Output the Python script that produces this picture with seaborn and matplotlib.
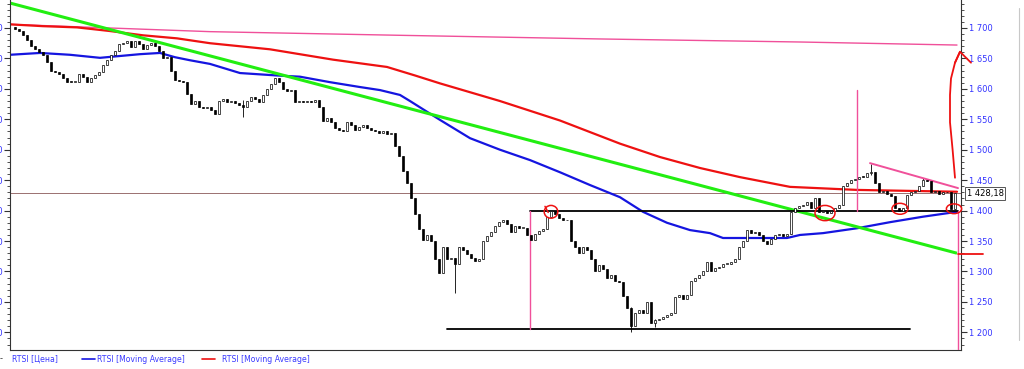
import numpy as np
import pandas as pd
import matplotlib
matplotlib.use("Agg")
import matplotlib.pyplot as plt
from matplotlib.patches import Ellipse, Rectangle
from matplotlib.ticker import MultipleLocator, FuncFormatter
import seaborn as sns

# ---------------- data ----------------
closes = [
    1698, 1695, 1688, 1680, 1670, 1665, 1660, 1655, 1644, 1630,
    1627, 1625, 1618, 1612, 1611, 1612, 1625, 1620, 1612, 1618,
    1622, 1628, 1640, 1648, 1655, 1662, 1674, 1676, 1678, 1668,
    1678, 1674, 1666, 1672, 1675, 1670, 1662, 1650, 1652, 1630,
    1614, 1613, 1612, 1592, 1575, 1580, 1570, 1568, 1570, 1566,
    1558, 1580, 1584, 1578, 1580, 1576, 1574, 1570, 1580, 1586,
    1584, 1578, 1590, 1600, 1608, 1618, 1612, 1600, 1596, 1598,
    1578, 1580, 1578, 1580, 1578, 1582, 1570, 1548, 1552, 1545,
    1535, 1532, 1531, 1545, 1540, 1532, 1538, 1540, 1536, 1532,
    1530, 1528, 1530, 1526, 1528, 1506, 1490, 1465, 1445, 1420,
    1395, 1370, 1352, 1360, 1350, 1320, 1298, 1340, 1320, 1322,
    1312, 1340, 1336, 1328, 1322, 1318, 1320, 1350, 1358, 1365,
    1375, 1382, 1384, 1378, 1365, 1375, 1372, 1372, 1360, 1352,
    1362, 1366, 1370, 1390, 1400, 1395, 1388, 1384, 1385, 1350,
    1340, 1330, 1340, 1335, 1320, 1300, 1310, 1304, 1290, 1294,
    1285, 1282, 1260, 1240, 1210, 1232, 1236, 1232, 1250, 1215,
    1220, 1222, 1225, 1228, 1232, 1258, 1262, 1255, 1262, 1285,
    1290, 1295, 1300, 1315, 1300, 1305, 1308, 1312, 1312, 1315,
    1320, 1340, 1350, 1368, 1364, 1365, 1360, 1350, 1345, 1354,
    1360, 1362, 1358, 1362, 1398, 1405, 1408, 1410, 1414, 1404,
    1420, 1398, 1400, 1396, 1400, 1404, 1410, 1440, 1445, 1450,
    1452, 1456, 1455, 1462, 1464, 1445, 1430, 1432, 1428, 1424,
    1405, 1400, 1404, 1425, 1430, 1432, 1440, 1450, 1448, 1430,
    1432, 1428, 1430, 1430, 1402, 1428.18,
]
first_open = 1702
# notable wicks: index -> (high, low)
wicks = {57: (1582, 1554), 110: (1322, 1265), 154: (1242, 1200),
         160: (1222, 1208), 214: (1476, 1458), 227: (1454, 1440)}

blue_ma_x = [-1.25, 6.25, 13.75, 21.25, 31.25, 36.25, 40, 43.75, 48.75, 56.25,
             65.5, 71.25, 78.75, 86.25, 91.25, 96.25, 98.75, 106.25, 113.75,
             121.25, 128.75, 136.25, 143.75, 151.25, 157, 163, 168.75, 173.75,
             177, 182, 193, 196.25, 202, 210.5, 218.75, 227, 235.5]
blue_ma_y = [1656, 1659, 1656, 1651, 1657, 1659, 1652, 1647, 1641, 1626,
             1622, 1620, 1611, 1603, 1598, 1590, 1580, 1549, 1519,
             1500, 1483, 1463, 1442, 1422, 1398, 1380, 1368, 1363,
             1355, 1355, 1355, 1360, 1363, 1371, 1381, 1390, 1398]

red_ma_x = [-1.25, 7, 15.5, 23.75, 32, 40.5, 48.75, 63.75, 79.5, 93, 100,
            106.25, 121.25, 136.25, 151.25, 161.25, 171.25, 181.25, 193.75,
            210.5, 227, 235.5]
red_ma_y = [1706, 1703, 1701, 1695, 1688, 1683, 1675, 1665, 1648, 1636, 1622,
            1609, 1580, 1548, 1510, 1488, 1470, 1455, 1439,
            1434, 1432, 1431]

pink_ma_x = [-1.25, 23.75, 48.75, 96.25, 146.25, 196.25, 235.5]
pink_ma_y = [1706, 1700, 1694, 1688, 1682, 1677, 1672]

last_price = 1428.18
legend_labels = ["RTSI [Цена]", "RTSI [Moving Average]", "RTSI [Moving Average]"]

# ---------------- figure ----------------
sns.set_theme(style="white")
plt.rcParams['font.family'] = ['DejaVu Sans']

W, H = 1024, 369
fig = plt.figure(figsize=(W / 100, H / 100), dpi=100)
ax = fig.add_axes([10 / W, 19 / H, 951 / W, 350 / H])
ax.set_facecolor("white")

n = len(closes)
opens = [first_open] + closes[:-1]
XMIN, XMAX = -1.25, 236.5
YMIN, YMAX = 1171, 1746

# moving averages through seaborn
ma_df = pd.concat([
    pd.DataFrame({"x": pink_ma_x, "v": pink_ma_y, "s": "pink"}),
    pd.DataFrame({"x": red_ma_x, "v": red_ma_y, "s": "red"}),
    pd.DataFrame({"x": blue_ma_x, "v": blue_ma_y, "s": "blue"}),
])
sns.lineplot(data=ma_df[ma_df.s == "pink"], x="x", y="v", color="#f0509a",
             lw=1.0, ax=ax, sort=False, zorder=2)
sns.lineplot(data=ma_df[ma_df.s == "red"], x="x", y="v", color="#ee1111",
             lw=1.6, ax=ax, sort=False, zorder=2)
sns.lineplot(data=ma_df[ma_df.s == "blue"], x="x", y="v", color="#1515e0",
             lw=1.6, ax=ax, sort=False, zorder=2)

# green trend line
ax.plot([-1.25, 235.5], [1741, 1330], color="#22ee11", lw=2.2, zorder=2,
        solid_capstyle="butt")

# last price line
ax.axhline(last_price, color="#8a5a5a", lw=0.6, zorder=1)

# candles
for i in range(n):
    o, c = opens[i], closes[i]
    hi, lo = max(o, c), min(o, c)
    if i in wicks:
        hi = max(hi, wicks[i][0]); lo = min(lo, wicks[i][1])
    ax.vlines(i, lo, hi, color="black", lw=0.6, zorder=3)
    bottom = min(o, c)
    h = max(abs(c - o), 1.2)
    face = "white" if c >= o else "black"
    ax.add_patch(Rectangle((i - 0.3, bottom), 0.6, h, facecolor=face,
                           edgecolor="black", lw=0.5, zorder=4))

# black horizontal levels
ax.plot([128.75, 235.75], [1399, 1399], color="black", lw=1.3, zorder=3)
ax.plot([108, 223.75], [1205, 1205], color="black", lw=1.3, zorder=3)

# pink verticals and triangle side
pk = "#f0509a"
ax.plot([128.75, 128.75], [1399, 1205], color=pk, lw=1.0, zorder=3)
ax.plot([210.5, 210.5], [1598, 1399], color=pk, lw=1.0, zorder=3)
ax.plot([235.75, 235.75], [1400, YMIN], color=pk, lw=1.0, zorder=3)
ax.plot([213.75, 235.75], [1478, 1437], color=pk, lw=1.4, zorder=3)

# red hand-drawn marks
rd = "#ee1111"
for cx, cy, w, h in [(134, 1398, 3.4, 21), (202.5, 1396, 5.0, 25),
                     (221.25, 1403, 4.0, 18), (234.75, 1403, 3.8, 16)]:
    ax.add_patch(Ellipse((cx, cy), w, h, fill=False, edgecolor=rd, lw=1.1,
                         zorder=5, clip_on=False))
ax.plot([132.5, 133.3], [1407, 1397], color=rd, lw=1.1, zorder=5)
arrow_x = [235, 234.4, 233.75, 233.75, 234.0, 235.0, 236.25]
arrow_y = [1454, 1500, 1545, 1590, 1617, 1643, 1661]
ax.plot(arrow_x, arrow_y, color=rd, lw=1.3, zorder=5, clip_on=False)
ax.plot([235.0, 236.25, 239.0], [1643, 1661, 1643], color=rd, lw=1.3,
        zorder=5, clip_on=False)
ax.plot([235.75, 242], [1329, 1329], color=rd, lw=1.3, zorder=5, clip_on=False)

# axes styling
ax.set_xlim(XMIN, XMAX)
ax.set_ylim(YMIN, YMAX)
ax.set_xlabel(""); ax.set_ylabel("")
ax.set_xticks([])
fmt = FuncFormatter(lambda v, p: f"{int(round(v)):,}".replace(",", " "))
ax.yaxis.set_major_locator(MultipleLocator(50))
ax.yaxis.set_minor_locator(MultipleLocator(10))
ax.yaxis.set_major_formatter(fmt)
ax.tick_params(axis="y", which="major", direction="out", length=4, width=0.8,
               color="#333333", labelsize=6, labelcolor="#3333ff", pad=1.5,
               left=True, right=True, labelleft=True, labelright=True)
ax.tick_params(axis="y", which="minor", direction="out", length=2.5,
               width=0.6, color="#333333", left=True, right=True)
for s in ["left", "right", "bottom"]:
    ax.spines[s].set_visible(True)
    ax.spines[s].set_color("#333333")
    ax.spines[s].set_linewidth(0.8)
ax.spines["top"].set_visible(False)

# last price box
ax.text(1.006, last_price, "1 428,18", transform=ax.get_yaxis_transform(),
        fontsize=6, color="black", va="center", ha="left", zorder=6,
        bbox=dict(boxstyle="square,pad=0.2", fc="white", ec="#555555", lw=0.7))

# legend row
ly = 1 - 359 / H
fig.text(0 / W, ly, "-", fontsize=6, color="#333333", va="center")
fig.text(12 / W, ly, legend_labels[0], fontsize=5.6, color="#3a3aff", va="center")
fig.add_artist(plt.Line2D([82 / W, 95 / W], [ly, ly], color="#1515e0", lw=1.2))
fig.text(97 / W, ly, legend_labels[1], fontsize=5.6, color="#3a3aff", va="center")
fig.add_artist(plt.Line2D([202 / W, 215 / W], [ly, ly], color="#ee1111", lw=1.2))
fig.text(222 / W, ly, legend_labels[2], fontsize=5.6, color="#3a3aff", va="center")

# scrollbar edge on the far right
fig.add_artist(plt.Line2D([1019 / W, 1019 / W], [1 - 340 / H, 1 - 8 / H],
                          color="#c8c8c8", lw=0.8))

fig.savefig("out.png", dpi=100, facecolor="white")
